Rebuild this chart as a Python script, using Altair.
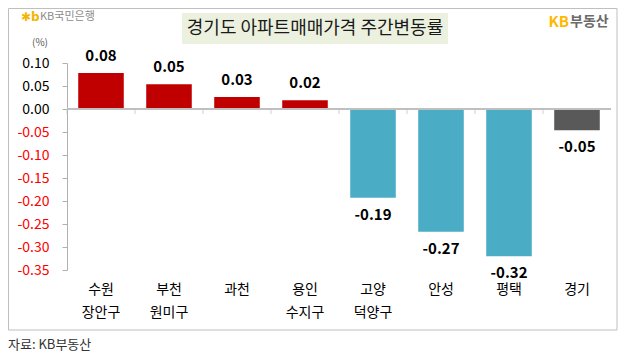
import altair as alt
import pandas as pd

categories = ["수원\n장안구", "부천\n원미구", "과천", "용인\n수지구", "고양\n덕양구", "안성", "평택", "경기"]
changes = [0.078, 0.054, 0.026, 0.019, -0.193, -0.267, -0.320, -0.046]
groups = ["상승", "상승", "상승", "상승", "하락", "하락", "하락", "경기"]
group_domain = ["상승", "하락", "경기"]
group_colors = ["#C00000", "#4BACC6", "#595959"]
y_ticks = [0.10, 0.05, 0.00, -0.05, -0.10, -0.15, -0.20, -0.25, -0.30, -0.35]

title_text = "경기도 아파트매매가격 주간변동률"
unit_text = "(%)"
source_text = "자료: KB부동산"

FONT = "Noto Sans CJK KR"
GRAY = "#BFBFBF"

df = pd.DataFrame({"지역": categories, "변동률": changes, "구분": groups})
one = pd.DataFrame({"k": [0]})

x_scale = alt.Scale(paddingInner=0.33, paddingOuter=0.165)
x_axis = alt.Axis(title=None, domain=False, ticks=False, labelAngle=0,
                  labelFontSize=14, labelColor="#000000", labelFont=FONT,
                  labelPadding=12, labelLineHeight=23,
                  labelExpr="split(datum.label, '\\n')")
y_scale = alt.Scale(domain=[-0.35, 0.10], nice=False, zero=False)
y_axis = alt.Axis(title=None, values=y_ticks, grid=False,
                  labelExpr="replace(format(datum.value, '.2f'), '\u2212', '-')",
                  labelOverlap=False, labelBound=False, labelFlush=False,
                  domain=True, ticks=True,
                  domainColor="#B0B0B0", tickColor="#B0B0B0", tickSize=5,
                  labelPadding=13, labelFontSize=14, labelFont=FONT,
                  labelColor={"expr": "datum.value < 0 ? '#FF0000' : '#000000'"})

x_enc = alt.X("지역:N", sort=None, scale=x_scale, axis=x_axis)
y_val = alt.Y("변동률:Q", scale=y_scale, axis=y_axis)
y_zero = alt.Y("zero:Q", scale=y_scale, axis=y_axis)

base = alt.Chart(df).transform_calculate(
    lbl="replace(format(datum['변동률'], '.2f'), '\u2212', '-')",
    zero="0")

bars = base.mark_bar().encode(
    x=x_enc, y=y_val,
    color=alt.Color("구분:N", scale=alt.Scale(domain=group_domain, range=group_colors), legend=None),
)

pos_labels = base.transform_filter("datum['변동률'] >= 0").mark_text(
    baseline="alphabetic", dy=-12, fontSize=15, fontWeight="bold", font=FONT, color="#000000"
).encode(x=x_enc, y=y_val, text="lbl:N")

neg_labels = base.transform_filter("datum['변동률'] < 0").mark_text(
    baseline="top", dy=10, fontSize=15, fontWeight="bold", font=FONT, color="#000000"
).encode(x=x_enc, y=y_val, text="lbl:N")

zero_rule = base.mark_rule(color=GRAY, strokeWidth=1).encode(y=y_zero)

cat_ticks = base.mark_tick(orient="vertical", size=5, thickness=1, color=GRAY,
                           xOffset=-34, yOffset=2.5).encode(x=x_enc, y=y_zero)

frame = alt.Chart(one).mark_rect(filled=False, stroke=GRAY, strokeWidth=1).encode(
    x=alt.value(-58.5), x2=alt.value(550), y=alt.value(-54.5), y2=alt.value(267))

title_box = alt.Chart(one).mark_rect(color="#EBF1DE").encode(
    x=alt.value(115), x2=alt.value(381), y=alt.value(-50), y2=alt.value(-19))
title = alt.Chart(one).mark_text(text=title_text, fontSize=18, font=FONT, color="#1A1A1A",
                                 align="center", baseline="middle").encode(
    x=alt.value(248), y=alt.value(-34.5))

kb_star = alt.Chart(one).mark_text(text="✱b", fontSize=12, font="DejaVu Sans", color="#F5B400",
                                   align="left", baseline="middle", fontWeight="bold").encode(
    x=alt.value(-46), y=alt.value(-46))
kb_bank = alt.Chart(one).mark_text(text="KB국민은행", fontSize=11, font=FONT, color="#8C8C8C",
                                   align="left", baseline="middle").encode(
    x=alt.value(-27), y=alt.value(-46))
kb_re1 = alt.Chart(one).mark_text(text="KB", fontSize=15, font=FONT, color="#FFB800",
                                  fontWeight="bold", align="right", baseline="middle").encode(
    x=alt.value(502), y=alt.value(-41))
kb_re2 = alt.Chart(one).mark_text(text="부동산", fontSize=14, font=FONT, color="#6B6B6B",
                                  fontWeight="bold", align="left", baseline="middle").encode(
    x=alt.value(503), y=alt.value(-41))
unit = alt.Chart(one).mark_text(text=unit_text, fontSize=10, font=FONT, color="#595959",
                                align="center", baseline="middle").encode(
    x=alt.value(-27), y=alt.value(-20))
source = alt.Chart(one).mark_text(text=source_text, fontSize=13, font=FONT, color="#333333",
                                  align="left", baseline="middle").encode(
    x=alt.value(-59), y=alt.value(282))

chart = alt.layer(
    bars, zero_rule, cat_ticks, pos_labels, neg_labels,
    frame, title_box, title, kb_star, kb_bank, kb_re1, kb_re2, unit, source,
).properties(
    width=544, height=207,
    autosize=alt.AutoSizeParams(type="none"),
    padding={"left": 59, "top": 55, "right": 13, "bottom": 90},
).configure_view(stroke=None).configure_axisY(labelOverlap=False, domain=True, ticks=True)

chart.save("out.html", embed_options={"renderer": "svg", "actions": False})
